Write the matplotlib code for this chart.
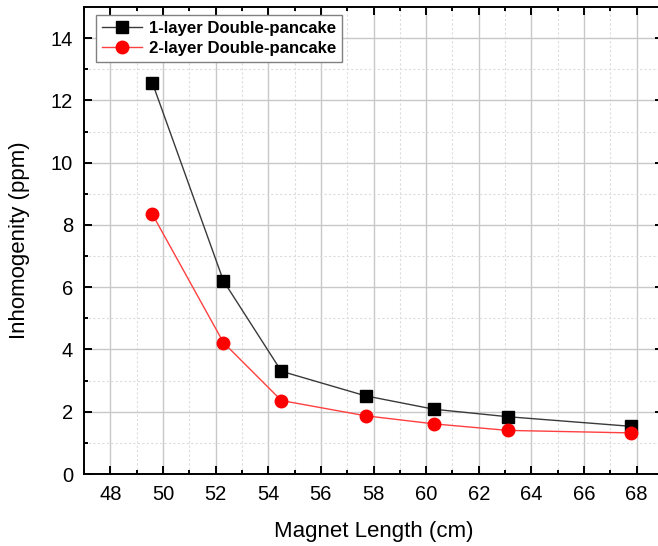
import numpy as np
import matplotlib
matplotlib.use('Agg')
import matplotlib.pyplot as plt
from matplotlib.ticker import MultipleLocator

# Daten
laenge = [49.6, 52.3, 54.5, 57.7, 60.3, 63.1, 67.8]
einlagig = [12.56, 6.20, 3.30, 2.51, 2.08, 1.84, 1.53]
zweilagig = [8.34, 4.22, 2.36, 1.87, 1.61, 1.40, 1.32]
namen = ['1-layer Double-pancake', '2-layer Double-pancake']

plt.rcParams['font.family'] = ['Liberation Sans', 'DejaVu Sans']

fig = plt.figure(figsize=(6.58, 5.46), dpi=100)
ax = fig.add_axes([84 / 658, 1 - 474 / 546, 579 / 658, 467 / 546])

ax.plot(laenge, einlagig, color='#3a3a3a', lw=1.0, marker='s', ms=8,
        mfc='black', mec='black', label=namen[0], zorder=3)
ax.plot(laenge, zweilagig, color='#ff4040', lw=1.0, marker='o', ms=9,
        mfc='red', mec='red', label=namen[1], zorder=3)

ax.set_xlim(47, 69)
ax.set_ylim(0, 15)
ax.xaxis.set_major_locator(MultipleLocator(2))
ax.xaxis.set_minor_locator(MultipleLocator(1))
ax.yaxis.set_major_locator(MultipleLocator(2))
ax.yaxis.set_minor_locator(MultipleLocator(1))

ax.grid(which='major', color='#c8c8c8', lw=1.0, ls='-')
ax.grid(which='minor', color='#dcdcdc', lw=0.8, ls=(0, (2, 2)))
ax.set_axisbelow(True)

ax.tick_params(which='both', direction='in', top=True, right=True,
               labelsize=14.5, width=1.4, pad=8)
ax.tick_params(which='major', length=6)
ax.tick_params(which='minor', length=3)
for s in ax.spines.values():
    s.set_linewidth(1.4)

ax.set_xlabel('Magnet Length (cm)', fontsize=16, labelpad=12)
ax.set_ylabel('Inhomogenity (ppm)', fontsize=16, labelpad=15)

leg = ax.legend(loc='upper left', bbox_to_anchor=(0.015, 0.99),
                prop={'weight': 'bold', 'size': 12.1}, fancybox=False,
                framealpha=1, edgecolor='#808080', handlelength=2.4,
                handletextpad=0.4, borderpad=0.35, labelspacing=0.3,
                borderaxespad=0.2)
leg.get_frame().set_linewidth(1.0)

fig.savefig('out.png', dpi=100)
